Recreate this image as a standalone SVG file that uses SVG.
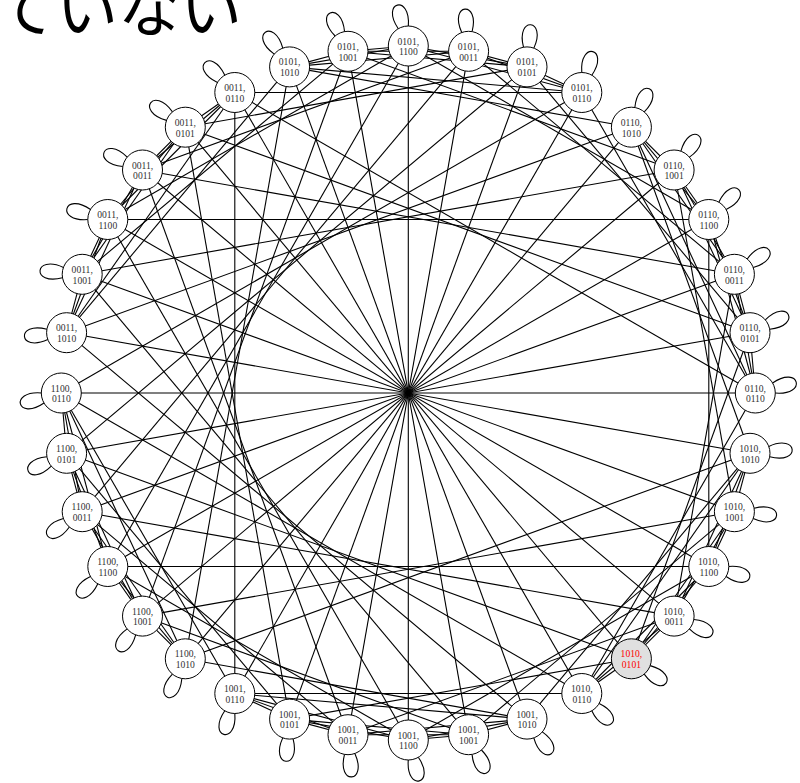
<svg xmlns="http://www.w3.org/2000/svg" xmlns:xlink="http://www.w3.org/1999/xlink" width="800" height="783" viewBox="0 0 800 783">
<style>
.e line{stroke:#000;stroke-width:1.1;fill:none}
.lp{stroke:#000;stroke-width:1.1;fill:none}
.n circle{fill:#fff;stroke:#000;stroke-width:1}
.n text{font-family:"Liberation Serif","DejaVu Serif",serif;font-size:9.6px;fill:#333;text-anchor:middle}
#n1010-0101 circle{fill:#e0e0e0}
#n1010-0101 text{fill:#f00}
.title{font-family:"Noto Sans CJK JP","Noto Sans CJK SC",sans-serif;font-size:62px;fill:#000}
</style>
<defs>
<path id="lp" d="M19.3,5.2 C50,16 50,-16 19.3,-5.2"/>
</defs>
<rect width="800" height="783" fill="#fff"/>
<text class="title" x="-6" y="32">ていない</text>
<g id="edges" class="e">
<line x1="289.6" y1="66.9" x2="348.0" y2="51.3"/>
<line x1="289.6" y1="66.9" x2="408.3" y2="46.0"/>
<line x1="289.6" y1="66.9" x2="468.6" y2="51.3"/>
<line x1="289.6" y1="66.9" x2="581.8" y2="92.5"/>
<line x1="348.0" y1="51.3" x2="408.3" y2="46.0"/>
<line x1="348.0" y1="51.3" x2="468.6" y2="51.3"/>
<line x1="348.0" y1="51.3" x2="527.0" y2="66.9"/>
<line x1="408.3" y1="46.0" x2="527.0" y2="66.9"/>
<line x1="408.3" y1="46.0" x2="581.8" y2="92.5"/>
<line x1="468.6" y1="51.3" x2="527.0" y2="66.9"/>
<line x1="468.6" y1="51.3" x2="581.8" y2="92.5"/>
<line x1="527.0" y1="66.9" x2="581.8" y2="92.5"/>
<line x1="631.4" y1="127.2" x2="674.1" y2="170.0"/>
<line x1="631.4" y1="127.2" x2="708.8" y2="219.5"/>
<line x1="631.4" y1="127.2" x2="734.4" y2="274.3"/>
<line x1="631.4" y1="127.2" x2="755.3" y2="393.0"/>
<line x1="674.1" y1="170.0" x2="708.8" y2="219.5"/>
<line x1="674.1" y1="170.0" x2="734.4" y2="274.3"/>
<line x1="674.1" y1="170.0" x2="750.0" y2="332.7"/>
<line x1="708.8" y1="219.5" x2="750.0" y2="332.7"/>
<line x1="708.8" y1="219.5" x2="755.3" y2="393.0"/>
<line x1="734.4" y1="274.3" x2="750.0" y2="332.7"/>
<line x1="734.4" y1="274.3" x2="755.3" y2="393.0"/>
<line x1="750.0" y1="332.7" x2="755.3" y2="393.0"/>
<line x1="750.0" y1="453.3" x2="734.4" y2="511.7"/>
<line x1="750.0" y1="453.3" x2="708.8" y2="566.5"/>
<line x1="750.0" y1="453.3" x2="674.1" y2="616.1"/>
<line x1="750.0" y1="453.3" x2="581.8" y2="693.5"/>
<line x1="734.4" y1="511.7" x2="708.8" y2="566.5"/>
<line x1="734.4" y1="511.7" x2="674.1" y2="616.1"/>
<line x1="734.4" y1="511.7" x2="631.4" y2="658.8"/>
<line x1="708.8" y1="566.5" x2="631.4" y2="658.8"/>
<line x1="708.8" y1="566.5" x2="581.8" y2="693.5"/>
<line x1="674.1" y1="616.1" x2="631.4" y2="658.8"/>
<line x1="674.1" y1="616.1" x2="581.8" y2="693.5"/>
<line x1="631.4" y1="658.8" x2="581.8" y2="693.5"/>
<line x1="527.0" y1="719.1" x2="468.6" y2="734.7"/>
<line x1="527.0" y1="719.1" x2="408.3" y2="740.0"/>
<line x1="527.0" y1="719.1" x2="348.0" y2="734.7"/>
<line x1="527.0" y1="719.1" x2="234.8" y2="693.5"/>
<line x1="468.6" y1="734.7" x2="408.3" y2="740.0"/>
<line x1="468.6" y1="734.7" x2="348.0" y2="734.7"/>
<line x1="468.6" y1="734.7" x2="289.6" y2="719.1"/>
<line x1="408.3" y1="740.0" x2="289.6" y2="719.1"/>
<line x1="408.3" y1="740.0" x2="234.8" y2="693.5"/>
<line x1="348.0" y1="734.7" x2="289.6" y2="719.1"/>
<line x1="348.0" y1="734.7" x2="234.8" y2="693.5"/>
<line x1="289.6" y1="719.1" x2="234.8" y2="693.5"/>
<line x1="185.3" y1="658.8" x2="142.5" y2="616.1"/>
<line x1="185.3" y1="658.8" x2="107.8" y2="566.5"/>
<line x1="185.3" y1="658.8" x2="82.2" y2="511.7"/>
<line x1="185.3" y1="658.8" x2="61.3" y2="393.0"/>
<line x1="142.5" y1="616.1" x2="107.8" y2="566.5"/>
<line x1="142.5" y1="616.1" x2="82.2" y2="511.7"/>
<line x1="142.5" y1="616.1" x2="66.6" y2="453.3"/>
<line x1="107.8" y1="566.5" x2="66.6" y2="453.3"/>
<line x1="107.8" y1="566.5" x2="61.3" y2="393.0"/>
<line x1="82.2" y1="511.7" x2="66.6" y2="453.3"/>
<line x1="82.2" y1="511.7" x2="61.3" y2="393.0"/>
<line x1="66.6" y1="453.3" x2="61.3" y2="393.0"/>
<line x1="66.6" y1="332.7" x2="82.2" y2="274.3"/>
<line x1="66.6" y1="332.7" x2="107.8" y2="219.5"/>
<line x1="66.6" y1="332.7" x2="142.5" y2="170.0"/>
<line x1="66.6" y1="332.7" x2="234.8" y2="92.5"/>
<line x1="82.2" y1="274.3" x2="107.8" y2="219.5"/>
<line x1="82.2" y1="274.3" x2="142.5" y2="170.0"/>
<line x1="82.2" y1="274.3" x2="185.3" y2="127.2"/>
<line x1="107.8" y1="219.5" x2="185.3" y2="127.2"/>
<line x1="107.8" y1="219.5" x2="234.8" y2="92.5"/>
<line x1="142.5" y1="170.0" x2="185.3" y2="127.2"/>
<line x1="142.5" y1="170.0" x2="234.8" y2="92.5"/>
<line x1="185.3" y1="127.2" x2="234.8" y2="92.5"/>
<line x1="289.6" y1="66.9" x2="527.0" y2="719.1"/>
<line x1="348.0" y1="51.3" x2="468.6" y2="734.7"/>
<line x1="408.3" y1="46.0" x2="408.3" y2="740.0"/>
<line x1="468.6" y1="51.3" x2="348.0" y2="734.7"/>
<line x1="527.0" y1="66.9" x2="289.6" y2="719.1"/>
<line x1="581.8" y1="92.5" x2="234.8" y2="693.5"/>
<line x1="631.4" y1="127.2" x2="185.3" y2="658.8"/>
<line x1="674.1" y1="170.0" x2="142.5" y2="616.1"/>
<line x1="708.8" y1="219.5" x2="107.8" y2="566.5"/>
<line x1="734.4" y1="274.3" x2="82.2" y2="511.7"/>
<line x1="750.0" y1="332.7" x2="66.6" y2="453.3"/>
<line x1="755.3" y1="393.0" x2="61.3" y2="393.0"/>
<line x1="750.0" y1="453.3" x2="66.6" y2="332.7"/>
<line x1="734.4" y1="511.7" x2="82.2" y2="274.3"/>
<line x1="708.8" y1="566.5" x2="107.8" y2="219.5"/>
<line x1="674.1" y1="616.1" x2="142.5" y2="170.0"/>
<line x1="631.4" y1="658.8" x2="185.3" y2="127.2"/>
<line x1="581.8" y1="693.5" x2="234.8" y2="92.5"/>
<line x1="289.6" y1="66.9" x2="631.4" y2="127.2"/>
<line x1="348.0" y1="51.3" x2="674.1" y2="170.0"/>
<line x1="408.3" y1="46.0" x2="708.8" y2="219.5"/>
<line x1="468.6" y1="51.3" x2="734.4" y2="274.3"/>
<line x1="527.0" y1="66.9" x2="750.0" y2="332.7"/>
<line x1="581.8" y1="92.5" x2="755.3" y2="393.0"/>
<line x1="631.4" y1="127.2" x2="750.0" y2="453.3"/>
<line x1="674.1" y1="170.0" x2="734.4" y2="511.7"/>
<line x1="708.8" y1="219.5" x2="708.8" y2="566.5"/>
<line x1="734.4" y1="274.3" x2="674.1" y2="616.1"/>
<line x1="750.0" y1="332.7" x2="631.4" y2="658.8"/>
<line x1="755.3" y1="393.0" x2="581.8" y2="693.5"/>
<line x1="750.0" y1="453.3" x2="527.0" y2="719.1"/>
<line x1="734.4" y1="511.7" x2="468.6" y2="734.7"/>
<line x1="708.8" y1="566.5" x2="408.3" y2="740.0"/>
<line x1="674.1" y1="616.1" x2="348.0" y2="734.7"/>
<line x1="631.4" y1="658.8" x2="289.6" y2="719.1"/>
<line x1="581.8" y1="693.5" x2="234.8" y2="693.5"/>
<line x1="527.0" y1="719.1" x2="185.3" y2="658.8"/>
<line x1="468.6" y1="734.7" x2="142.5" y2="616.1"/>
<line x1="408.3" y1="740.0" x2="107.8" y2="566.5"/>
<line x1="348.0" y1="734.7" x2="82.2" y2="511.7"/>
<line x1="289.6" y1="719.1" x2="66.6" y2="453.3"/>
<line x1="234.8" y1="693.5" x2="61.3" y2="393.0"/>
<line x1="66.6" y1="332.7" x2="289.6" y2="66.9"/>
<line x1="82.2" y1="274.3" x2="348.0" y2="51.3"/>
<line x1="107.8" y1="219.5" x2="408.3" y2="46.0"/>
<line x1="142.5" y1="170.0" x2="468.6" y2="51.3"/>
<line x1="185.3" y1="127.2" x2="527.0" y2="66.9"/>
<line x1="234.8" y1="92.5" x2="581.8" y2="92.5"/>
<line x1="750.0" y1="453.3" x2="185.3" y2="658.8"/>
<line x1="734.4" y1="511.7" x2="142.5" y2="616.1"/>
<line x1="708.8" y1="566.5" x2="107.8" y2="566.5"/>
<line x1="674.1" y1="616.1" x2="82.2" y2="511.7"/>
<line x1="631.4" y1="658.8" x2="66.6" y2="453.3"/>
<line x1="581.8" y1="693.5" x2="61.3" y2="393.0"/>
<line x1="527.0" y1="719.1" x2="66.6" y2="332.7"/>
<line x1="468.6" y1="734.7" x2="82.2" y2="274.3"/>
<line x1="408.3" y1="740.0" x2="107.8" y2="219.5"/>
<line x1="348.0" y1="734.7" x2="142.5" y2="170.0"/>
<line x1="289.6" y1="719.1" x2="185.3" y2="127.2"/>
<line x1="234.8" y1="693.5" x2="234.8" y2="92.5"/>
<line x1="185.3" y1="658.8" x2="289.6" y2="66.9"/>
<line x1="142.5" y1="616.1" x2="348.0" y2="51.3"/>
<line x1="107.8" y1="566.5" x2="408.3" y2="46.0"/>
<line x1="82.2" y1="511.7" x2="468.6" y2="51.3"/>
<line x1="66.6" y1="453.3" x2="527.0" y2="66.9"/>
<line x1="61.3" y1="393.0" x2="581.8" y2="92.5"/>
<line x1="66.6" y1="332.7" x2="631.4" y2="127.2"/>
<line x1="82.2" y1="274.3" x2="674.1" y2="170.0"/>
<line x1="107.8" y1="219.5" x2="708.8" y2="219.5"/>
<line x1="142.5" y1="170.0" x2="734.4" y2="274.3"/>
<line x1="185.3" y1="127.2" x2="750.0" y2="332.7"/>
<line x1="234.8" y1="92.5" x2="755.3" y2="393.0"/>
</g>
<g id="loops" class="lp">
<use xlink:href="#lp" transform="translate(289.6,66.9) rotate(-125)"/>
<use xlink:href="#lp" transform="translate(348.0,51.3) rotate(-115)"/>
<use xlink:href="#lp" transform="translate(408.3,46.0) rotate(-105)"/>
<use xlink:href="#lp" transform="translate(468.6,51.3) rotate(-95)"/>
<use xlink:href="#lp" transform="translate(527.0,66.9) rotate(-85)"/>
<use xlink:href="#lp" transform="translate(581.8,92.5) rotate(-75)"/>
<use xlink:href="#lp" transform="translate(631.4,127.2) rotate(-65)"/>
<use xlink:href="#lp" transform="translate(674.1,170.0) rotate(-55)"/>
<use xlink:href="#lp" transform="translate(708.8,219.5) rotate(-45)"/>
<use xlink:href="#lp" transform="translate(734.4,274.3) rotate(-35)"/>
<use xlink:href="#lp" transform="translate(750.0,332.7) rotate(-25)"/>
<use xlink:href="#lp" transform="translate(755.3,393.0) rotate(-15)"/>
<use xlink:href="#lp" transform="translate(750.0,453.3) rotate(-5)"/>
<use xlink:href="#lp" transform="translate(734.4,511.7) rotate(5)"/>
<use xlink:href="#lp" transform="translate(708.8,566.5) rotate(15)"/>
<use xlink:href="#lp" transform="translate(674.1,616.1) rotate(25)"/>
<use xlink:href="#lp" transform="translate(631.4,658.8) rotate(35)"/>
<use xlink:href="#lp" transform="translate(581.8,693.5) rotate(45)"/>
<use xlink:href="#lp" transform="translate(527.0,719.1) rotate(55)"/>
<use xlink:href="#lp" transform="translate(468.6,734.7) rotate(65)"/>
<use xlink:href="#lp" transform="translate(408.3,740.0) rotate(75)"/>
<use xlink:href="#lp" transform="translate(348.0,734.7) rotate(85)"/>
<use xlink:href="#lp" transform="translate(289.6,719.1) rotate(95)"/>
<use xlink:href="#lp" transform="translate(234.8,693.5) rotate(105)"/>
<use xlink:href="#lp" transform="translate(185.3,658.8) rotate(115)"/>
<use xlink:href="#lp" transform="translate(142.5,616.1) rotate(125)"/>
<use xlink:href="#lp" transform="translate(107.8,566.5) rotate(135)"/>
<use xlink:href="#lp" transform="translate(82.2,511.7) rotate(145)"/>
<use xlink:href="#lp" transform="translate(66.6,453.3) rotate(155)"/>
<use xlink:href="#lp" transform="translate(61.3,393.0) rotate(165)"/>
<use xlink:href="#lp" transform="translate(66.6,332.7) rotate(175)"/>
<use xlink:href="#lp" transform="translate(82.2,274.3) rotate(185)"/>
<use xlink:href="#lp" transform="translate(107.8,219.5) rotate(195)"/>
<use xlink:href="#lp" transform="translate(142.5,170.0) rotate(205)"/>
<use xlink:href="#lp" transform="translate(185.3,127.2) rotate(215)"/>
<use xlink:href="#lp" transform="translate(234.8,92.5) rotate(225)"/>
</g>
<g id="nodes">
<g id="n0101-1010" class="n"><circle cx="289.6" cy="66.9" r="20"/><text x="289.6" y="65.4">0101,</text><text x="289.6" y="76.2">1010</text></g>
<g id="n0101-1001" class="n"><circle cx="348.0" cy="51.3" r="20"/><text x="348.0" y="49.8">0101,</text><text x="348.0" y="60.6">1001</text></g>
<g id="n0101-1100" class="n"><circle cx="408.3" cy="46.0" r="20"/><text x="408.3" y="44.5">0101,</text><text x="408.3" y="55.3">1100</text></g>
<g id="n0101-0011" class="n"><circle cx="468.6" cy="51.3" r="20"/><text x="468.6" y="49.8">0101,</text><text x="468.6" y="60.6">0011</text></g>
<g id="n0101-0101" class="n"><circle cx="527.0" cy="66.9" r="20"/><text x="527.0" y="65.4">0101,</text><text x="527.0" y="76.2">0101</text></g>
<g id="n0101-0110" class="n"><circle cx="581.8" cy="92.5" r="20"/><text x="581.8" y="91.0">0101,</text><text x="581.8" y="101.8">0110</text></g>
<g id="n0110-1010" class="n"><circle cx="631.4" cy="127.2" r="20"/><text x="631.4" y="125.7">0110,</text><text x="631.4" y="136.5">1010</text></g>
<g id="n0110-1001" class="n"><circle cx="674.1" cy="170.0" r="20"/><text x="674.1" y="168.5">0110,</text><text x="674.1" y="179.3">1001</text></g>
<g id="n0110-1100" class="n"><circle cx="708.8" cy="219.5" r="20"/><text x="708.8" y="218.0">0110,</text><text x="708.8" y="228.8">1100</text></g>
<g id="n0110-0011" class="n"><circle cx="734.4" cy="274.3" r="20"/><text x="734.4" y="272.8">0110,</text><text x="734.4" y="283.6">0011</text></g>
<g id="n0110-0101" class="n"><circle cx="750.0" cy="332.7" r="20"/><text x="750.0" y="331.2">0110,</text><text x="750.0" y="342.0">0101</text></g>
<g id="n0110-0110" class="n"><circle cx="755.3" cy="393.0" r="20"/><text x="755.3" y="391.5">0110,</text><text x="755.3" y="402.3">0110</text></g>
<g id="n1010-1010" class="n"><circle cx="750.0" cy="453.3" r="20"/><text x="750.0" y="451.8">1010,</text><text x="750.0" y="462.6">1010</text></g>
<g id="n1010-1001" class="n"><circle cx="734.4" cy="511.7" r="20"/><text x="734.4" y="510.2">1010,</text><text x="734.4" y="521.0">1001</text></g>
<g id="n1010-1100" class="n"><circle cx="708.8" cy="566.5" r="20"/><text x="708.8" y="565.0">1010,</text><text x="708.8" y="575.8">1100</text></g>
<g id="n1010-0011" class="n"><circle cx="674.1" cy="616.1" r="20"/><text x="674.1" y="614.6">1010,</text><text x="674.1" y="625.4">0011</text></g>
<g id="n1010-0101" class="n"><circle cx="631.4" cy="658.8" r="20"/><text x="631.4" y="657.3">1010,</text><text x="631.4" y="668.1">0101</text></g>
<g id="n1010-0110" class="n"><circle cx="581.8" cy="693.5" r="20"/><text x="581.8" y="692.0">1010,</text><text x="581.8" y="702.8">0110</text></g>
<g id="n1001-1010" class="n"><circle cx="527.0" cy="719.1" r="20"/><text x="527.0" y="717.6">1001,</text><text x="527.0" y="728.4">1010</text></g>
<g id="n1001-1001" class="n"><circle cx="468.6" cy="734.7" r="20"/><text x="468.6" y="733.2">1001,</text><text x="468.6" y="744.0">1001</text></g>
<g id="n1001-1100" class="n"><circle cx="408.3" cy="740.0" r="20"/><text x="408.3" y="738.5">1001,</text><text x="408.3" y="749.3">1100</text></g>
<g id="n1001-0011" class="n"><circle cx="348.0" cy="734.7" r="20"/><text x="348.0" y="733.2">1001,</text><text x="348.0" y="744.0">0011</text></g>
<g id="n1001-0101" class="n"><circle cx="289.6" cy="719.1" r="20"/><text x="289.6" y="717.6">1001,</text><text x="289.6" y="728.4">0101</text></g>
<g id="n1001-0110" class="n"><circle cx="234.8" cy="693.5" r="20"/><text x="234.8" y="692.0">1001,</text><text x="234.8" y="702.8">0110</text></g>
<g id="n1100-1010" class="n"><circle cx="185.3" cy="658.8" r="20"/><text x="185.3" y="657.3">1100,</text><text x="185.3" y="668.1">1010</text></g>
<g id="n1100-1001" class="n"><circle cx="142.5" cy="616.1" r="20"/><text x="142.5" y="614.6">1100,</text><text x="142.5" y="625.4">1001</text></g>
<g id="n1100-1100" class="n"><circle cx="107.8" cy="566.5" r="20"/><text x="107.8" y="565.0">1100,</text><text x="107.8" y="575.8">1100</text></g>
<g id="n1100-0011" class="n"><circle cx="82.2" cy="511.7" r="20"/><text x="82.2" y="510.2">1100,</text><text x="82.2" y="521.0">0011</text></g>
<g id="n1100-0101" class="n"><circle cx="66.6" cy="453.3" r="20"/><text x="66.6" y="451.8">1100,</text><text x="66.6" y="462.6">0101</text></g>
<g id="n1100-0110" class="n"><circle cx="61.3" cy="393.0" r="20"/><text x="61.3" y="391.5">1100,</text><text x="61.3" y="402.3">0110</text></g>
<g id="n0011-1010" class="n"><circle cx="66.6" cy="332.7" r="20"/><text x="66.6" y="331.2">0011,</text><text x="66.6" y="342.0">1010</text></g>
<g id="n0011-1001" class="n"><circle cx="82.2" cy="274.3" r="20"/><text x="82.2" y="272.8">0011,</text><text x="82.2" y="283.6">1001</text></g>
<g id="n0011-1100" class="n"><circle cx="107.8" cy="219.5" r="20"/><text x="107.8" y="218.0">0011,</text><text x="107.8" y="228.8">1100</text></g>
<g id="n0011-0011" class="n"><circle cx="142.5" cy="170.0" r="20"/><text x="142.5" y="168.5">0011,</text><text x="142.5" y="179.3">0011</text></g>
<g id="n0011-0101" class="n"><circle cx="185.3" cy="127.2" r="20"/><text x="185.3" y="125.7">0011,</text><text x="185.3" y="136.5">0101</text></g>
<g id="n0011-0110" class="n"><circle cx="234.8" cy="92.5" r="20"/><text x="234.8" y="91.0">0011,</text><text x="234.8" y="101.8">0110</text></g>
</g>
</svg>
